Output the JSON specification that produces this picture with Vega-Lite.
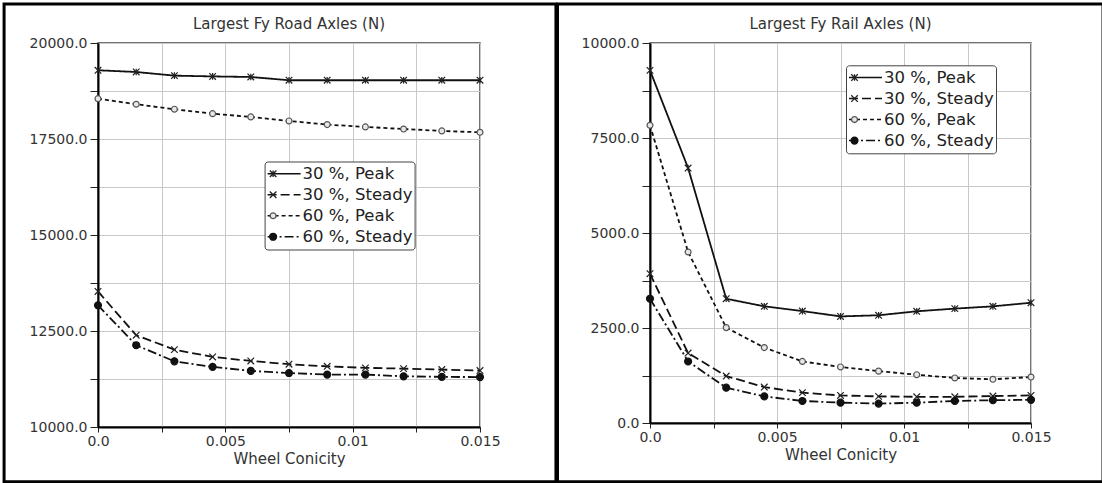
{
  "$schema": "https://vega.github.io/schema/vega-lite/v6.json",
  "background": "white",
  "padding": {"left": 1, "top": 1, "right": 0, "bottom": 0},
  "spacing": -4,
  "datasets": {
    "road": [
      {"series": "30 %, Peak", "x": 0, "y": 19290}, {"series": "30 %, Peak", "x": 0.0015, "y": 19245}, {"series": "30 %, Peak", "x": 0.003, "y": 19150}, {"series": "30 %, Peak", "x": 0.0045, "y": 19130}, {"series": "30 %, Peak", "x": 0.006, "y": 19115}, {"series": "30 %, Peak", "x": 0.0075, "y": 19030}, {"series": "30 %, Peak", "x": 0.009, "y": 19030}, {"series": "30 %, Peak", "x": 0.0105, "y": 19030}, {"series": "30 %, Peak", "x": 0.012, "y": 19030}, {"series": "30 %, Peak", "x": 0.0135, "y": 19030}, {"series": "30 %, Peak", "x": 0.015, "y": 19030},
      {"series": "30 %, Steady", "x": 0, "y": 13530}, {"series": "30 %, Steady", "x": 0.0015, "y": 12390}, {"series": "30 %, Steady", "x": 0.003, "y": 12015}, {"series": "30 %, Steady", "x": 0.0045, "y": 11825}, {"series": "30 %, Steady", "x": 0.006, "y": 11720}, {"series": "30 %, Steady", "x": 0.0075, "y": 11635}, {"series": "30 %, Steady", "x": 0.009, "y": 11580}, {"series": "30 %, Steady", "x": 0.0105, "y": 11540}, {"series": "30 %, Steady", "x": 0.012, "y": 11520}, {"series": "30 %, Steady", "x": 0.0135, "y": 11495}, {"series": "30 %, Steady", "x": 0.015, "y": 11470},
      {"series": "60 %, Peak", "x": 0, "y": 18550}, {"series": "60 %, Peak", "x": 0.0015, "y": 18405}, {"series": "60 %, Peak", "x": 0.003, "y": 18275}, {"series": "60 %, Peak", "x": 0.0045, "y": 18160}, {"series": "60 %, Peak", "x": 0.006, "y": 18075}, {"series": "60 %, Peak", "x": 0.0075, "y": 17970}, {"series": "60 %, Peak", "x": 0.009, "y": 17875}, {"series": "60 %, Peak", "x": 0.0105, "y": 17815}, {"series": "60 %, Peak", "x": 0.012, "y": 17760}, {"series": "60 %, Peak", "x": 0.0135, "y": 17710}, {"series": "60 %, Peak", "x": 0.015, "y": 17675},
      {"series": "60 %, Steady", "x": 0, "y": 13170}, {"series": "60 %, Steady", "x": 0.0015, "y": 12130}, {"series": "60 %, Steady", "x": 0.003, "y": 11710}, {"series": "60 %, Steady", "x": 0.0045, "y": 11565}, {"series": "60 %, Steady", "x": 0.006, "y": 11460}, {"series": "60 %, Steady", "x": 0.0075, "y": 11405}, {"series": "60 %, Steady", "x": 0.009, "y": 11365}, {"series": "60 %, Steady", "x": 0.0105, "y": 11365}, {"series": "60 %, Steady", "x": 0.012, "y": 11320}, {"series": "60 %, Steady", "x": 0.0135, "y": 11305}, {"series": "60 %, Steady", "x": 0.015, "y": 11300}
    ],
    "rail": [
      {"series": "30 %, Peak", "x": 0, "y": 9280}, {"series": "30 %, Peak", "x": 0.0015, "y": 6710}, {"series": "30 %, Peak", "x": 0.003, "y": 3270}, {"series": "30 %, Peak", "x": 0.0045, "y": 3070}, {"series": "30 %, Peak", "x": 0.006, "y": 2945}, {"series": "30 %, Peak", "x": 0.0075, "y": 2805}, {"series": "30 %, Peak", "x": 0.009, "y": 2835}, {"series": "30 %, Peak", "x": 0.0105, "y": 2940}, {"series": "30 %, Peak", "x": 0.012, "y": 3010}, {"series": "30 %, Peak", "x": 0.0135, "y": 3070}, {"series": "30 %, Peak", "x": 0.015, "y": 3165},
      {"series": "30 %, Steady", "x": 0, "y": 3930}, {"series": "30 %, Steady", "x": 0.0015, "y": 1840}, {"series": "30 %, Steady", "x": 0.003, "y": 1235}, {"series": "30 %, Steady", "x": 0.0045, "y": 945}, {"series": "30 %, Steady", "x": 0.006, "y": 800}, {"series": "30 %, Steady", "x": 0.0075, "y": 725}, {"series": "30 %, Steady", "x": 0.009, "y": 700}, {"series": "30 %, Steady", "x": 0.0105, "y": 690}, {"series": "30 %, Steady", "x": 0.012, "y": 690}, {"series": "30 %, Steady", "x": 0.0135, "y": 710}, {"series": "30 %, Steady", "x": 0.015, "y": 725},
      {"series": "60 %, Peak", "x": 0, "y": 7835}, {"series": "60 %, Peak", "x": 0.0015, "y": 4500}, {"series": "60 %, Peak", "x": 0.003, "y": 2510}, {"series": "60 %, Peak", "x": 0.0045, "y": 1985}, {"series": "60 %, Peak", "x": 0.006, "y": 1620}, {"series": "60 %, Peak", "x": 0.0075, "y": 1475}, {"series": "60 %, Peak", "x": 0.009, "y": 1365}, {"series": "60 %, Peak", "x": 0.0105, "y": 1270}, {"series": "60 %, Peak", "x": 0.012, "y": 1185}, {"series": "60 %, Peak", "x": 0.0135, "y": 1150}, {"series": "60 %, Peak", "x": 0.015, "y": 1210},
      {"series": "60 %, Steady", "x": 0, "y": 3270}, {"series": "60 %, Steady", "x": 0.0015, "y": 1620}, {"series": "60 %, Steady", "x": 0.003, "y": 930}, {"series": "60 %, Steady", "x": 0.0045, "y": 700}, {"series": "60 %, Steady", "x": 0.006, "y": 580}, {"series": "60 %, Steady", "x": 0.0075, "y": 535}, {"series": "60 %, Steady", "x": 0.009, "y": 510}, {"series": "60 %, Steady", "x": 0.0105, "y": 535}, {"series": "60 %, Steady", "x": 0.012, "y": 580}, {"series": "60 %, Steady", "x": 0.0135, "y": 600}, {"series": "60 %, Steady", "x": 0.015, "y": 610}
    ]
  },
  "hconcat": [
    {
      "width": 382,
      "height": 384,
      "data": {"name": "road"},
      "title": {"text": "Largest Fy Road Axles (N)", "frame": "group", "anchor": "middle", "offset": -41.5, "baseline": "alphabetic", "font": "DejaVu Sans", "fontSize": 15, "fontWeight": "normal", "color": "#333"},
      "layer": [
        {
          "mark": {"type": "line", "color": "#111", "strokeWidth": 1.8},
          "encoding": {
            "x": {"field": "x", "type": "quantitative", "scale": {"domain": [0, 0.015], "nice": false, "zero": false},
              "axis": {"orient": "bottom", "title": "Wheel Conicity", "values": [0, 0.0025, 0.005, 0.0075, 0.01, 0.0125, 0.015],
                "labelExpr": "abs(datum.value*200 - round(datum.value*200)) > 0.01 ? '' : (datum.value == 0 ? '0.0' : format(datum.value, '.3~f'))",
                "tickSize": 5, "labelPadding": 2, "titlePadding": 3, "labelFlush": false, "labelOverlap": false, "grid": true}},
            "y": {"field": "y", "type": "quantitative", "scale": {"domain": [10000, 20000], "nice": false, "zero": false},
              "axis": {"orient": "left", "title": null, "values": [10000, 11250, 12500, 13750, 15000, 16250, 17500, 18750, 20000],
                "labelExpr": "datum.value % 2500 == 0 ? format(datum.value, '.1f') : ''", "tickSize": 8, "labelPadding": 3, "labelFlush": false, "labelOverlap": false, "grid": true}},
            "strokeDash": {"field": "series", "type": "nominal",
              "scale": {"range": [[1, 0], [9, 4], [4, 3], [9, 3, 2, 3]]},
              "legend": {"orient": "none", "legendX": 166.6, "legendY": 118.5, "zindex": 1, "title": null, "padding": 2, "strokeColor": "#444", "fillColor": "white", "cornerRadius": 3,
                "labelFont": "DejaVu Sans", "labelFontSize": 16.5, "labelColor": "#222", "labelOffset": 1, "rowPadding": 0, "clipHeight": 20.5,
                "symbolSize": 1089, "symbolStrokeWidth": 1.5, "symbolStrokeColor": "#111"}
            }
          }
        },
        {
          "mark": {"type": "point", "strokeWidth": 1.2, "size": 1089, "opacity": 1},
          "encoding": {
            "x": {"field": "x", "type": "quantitative", "scale": {"domain": [0, 0.015], "nice": false, "zero": false}},
            "y": {"field": "y", "type": "quantitative", "scale": {"domain": [10000, 20000], "nice": false, "zero": false}},
            "stroke": {"field": "series", "type": "nominal",
              "scale": {"domain": ["30 %, Peak", "30 %, Steady", "60 %, Peak", "60 %, Steady"], "range": ["#222", "#222", "#555", "#111"]}},
            "fill": {"field": "series", "type": "nominal",
              "scale": {"domain": ["30 %, Peak", "30 %, Steady", "60 %, Peak", "60 %, Steady"], "range": ["transparent", "transparent", "#e8e8e8", "#111"]}},
            "shape": {"field": "series", "type": "nominal",
              "scale": {"domain": ["30 %, Peak", "30 %, Steady", "60 %, Peak", "60 %, Steady"], "range": ["M-0.2,-0.2L0.2,0.2M-0.2,0.2L0.2,-0.2M0,-0.2L0,0.2", "M-0.2,-0.2L0.2,0.2M-0.2,0.2L0.2,-0.2", "M-0.18,0A0.18,0.18 0 1,1 0.18,0A0.18,0.18 0 1,1 -0.18,0Z", "M-0.21,0A0.21,0.21 0 1,1 0.21,0A0.21,0.21 0 1,1 -0.21,0Z"]},
              "legend": {"orient": "none", "legendX": 166.6, "legendY": 118.5, "zindex": 2, "title": null, "padding": 2, "strokeColor": "transparent", "fillColor": "transparent",
                "labelFont": "DejaVu Sans", "labelFontSize": 16.5, "labelColor": "transparent", "labelExpr": "' '", "labelOffset": 1, "rowPadding": 0, "clipHeight": 20.5,
                "symbolSize": 1089, "symbolStrokeWidth": 1.3, "symbolOffset": -11}
            }
          }
        },
        {
          "data": {"values": [{"frame": "panel"}]},
          "mark": {"type": "rect", "filled": false, "stroke": "black", "strokeWidth": 3},
          "encoding": {
            "x": {"datum": -0.003688, "type": "quantitative", "scale": {"domain": [0, 0.015], "nice": false, "zero": false}},
            "x2": {"datum": 0.017982},
            "y": {"datum": 21016, "type": "quantitative", "scale": {"domain": [10000, 20000], "nice": false, "zero": false}},
            "y2": {"datum": 8573}
          }
        }
      ]
    },
    {
      "width": 381,
      "height": 380,
      "data": {"name": "rail"},
      "title": {"text": "Largest Fy Rail Axles (N)", "frame": "group", "anchor": "middle", "offset": -41.5, "baseline": "alphabetic", "font": "DejaVu Sans", "fontSize": 15, "fontWeight": "normal", "color": "#333"},
      "layer": [
        {
          "mark": {"type": "line", "color": "#111", "strokeWidth": 1.8},
          "encoding": {
            "x": {"field": "x", "type": "quantitative", "scale": {"domain": [0, 0.015], "nice": false, "zero": false},
              "axis": {"orient": "bottom", "title": "Wheel Conicity", "values": [0, 0.0025, 0.005, 0.0075, 0.01, 0.0125, 0.015],
                "labelExpr": "abs(datum.value*200 - round(datum.value*200)) > 0.01 ? '' : (datum.value == 0 ? '0.0' : format(datum.value, '.3~f'))",
                "tickSize": 5, "labelPadding": 2, "titlePadding": 3, "labelFlush": false, "labelOverlap": false, "grid": true}},
            "y": {"field": "y", "type": "quantitative", "scale": {"domain": [0, 10000], "nice": false, "zero": false},
              "axis": {"orient": "left", "title": null, "values": [0, 1250, 2500, 3750, 5000, 6250, 7500, 8750, 10000],
                "labelExpr": "datum.value % 2500 == 0 ? format(datum.value, '.1f') : ''", "tickSize": 8, "labelPadding": 3, "labelFlush": false, "labelOverlap": false, "grid": true}},
            "strokeDash": {"field": "series", "type": "nominal",
              "scale": {"range": [[1, 0], [9, 4], [4, 3], [9, 3, 2, 3]]},
              "legend": {"orient": "none", "legendX": 196, "legendY": 22.3, "zindex": 1, "title": null, "padding": 2, "strokeColor": "#444", "fillColor": "white", "cornerRadius": 3,
                "labelFont": "DejaVu Sans", "labelFontSize": 16.5, "labelColor": "#222", "labelOffset": 1, "rowPadding": 0, "clipHeight": 20.5,
                "symbolSize": 1089, "symbolStrokeWidth": 1.5, "symbolStrokeColor": "#111"}
            }
          }
        },
        {
          "mark": {"type": "point", "strokeWidth": 1.2, "size": 1089, "opacity": 1},
          "encoding": {
            "x": {"field": "x", "type": "quantitative", "scale": {"domain": [0, 0.015], "nice": false, "zero": false}},
            "y": {"field": "y", "type": "quantitative", "scale": {"domain": [0, 10000], "nice": false, "zero": false}},
            "stroke": {"field": "series", "type": "nominal",
              "scale": {"domain": ["30 %, Peak", "30 %, Steady", "60 %, Peak", "60 %, Steady"], "range": ["#222", "#222", "#555", "#111"]}},
            "fill": {"field": "series", "type": "nominal",
              "scale": {"domain": ["30 %, Peak", "30 %, Steady", "60 %, Peak", "60 %, Steady"], "range": ["transparent", "transparent", "#e8e8e8", "#111"]}},
            "shape": {"field": "series", "type": "nominal",
              "scale": {"domain": ["30 %, Peak", "30 %, Steady", "60 %, Peak", "60 %, Steady"], "range": ["M-0.2,-0.2L0.2,0.2M-0.2,0.2L0.2,-0.2M0,-0.2L0,0.2", "M-0.2,-0.2L0.2,0.2M-0.2,0.2L0.2,-0.2", "M-0.18,0A0.18,0.18 0 1,1 0.18,0A0.18,0.18 0 1,1 -0.18,0Z", "M-0.21,0A0.21,0.21 0 1,1 0.21,0A0.21,0.21 0 1,1 -0.21,0Z"]},
              "legend": {"orient": "none", "legendX": 196, "legendY": 22.3, "zindex": 2, "title": null, "padding": 2, "strokeColor": "transparent", "fillColor": "transparent",
                "labelFont": "DejaVu Sans", "labelFontSize": 16.5, "labelColor": "transparent", "labelExpr": "' '", "labelOffset": 1, "rowPadding": 0, "clipHeight": 20.5,
                "symbolSize": 1089, "symbolStrokeWidth": 1.3, "symbolOffset": -11}
            }
          }
        },
        {
          "data": {"values": [{"frame": "panel"}]},
          "mark": {"type": "rect", "filled": false, "stroke": "black", "strokeWidth": 3},
          "encoding": {
            "x": {"datum": -0.003642, "type": "quantitative", "scale": {"domain": [0, 0.015], "nice": false, "zero": false}},
            "x2": {"datum": 0.017835},
            "y": {"datum": 11026, "type": "quantitative", "scale": {"domain": [0, 10000], "nice": false, "zero": false}},
            "y2": {"datum": -1547}
          }
        }
      ]
    }
  ],
  "resolve": {
    "scale": {"shape": "independent", "strokeDash": "independent", "fill": "independent", "stroke": "independent"},
    "legend": {"shape": "independent", "strokeDash": "independent", "fill": "independent", "stroke": "independent"}
  },
  "config": {
    "font": "DejaVu Sans",
    "view": {"stroke": "#444", "strokeWidth": 1.5},
    "axis": {
      "domainColor": "#000", "domainWidth": 2, "tickColor": "#222", "tickWidth": 1,
      "gridColor": "#c8c8c8", "gridWidth": 1,
      "labelFont": "DejaVu Sans", "labelFontSize": 14, "labelColor": "#333",
      "titleFont": "DejaVu Sans", "titleFontSize": 15, "titleFontWeight": "normal", "titleColor": "#333"
    }
  }
}
